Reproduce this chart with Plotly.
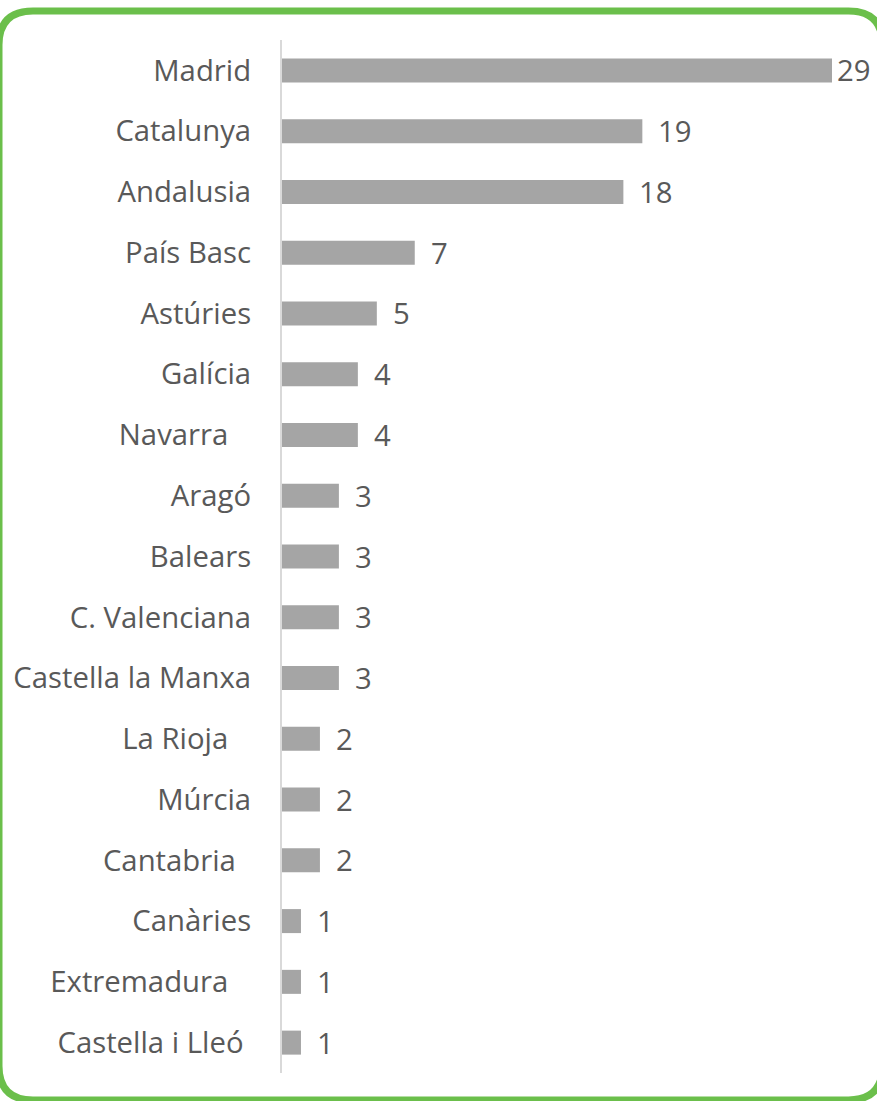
import plotly.graph_objects as go

NBSP = "\u00a0"
categories = ["Madrid", "Catalunya", "Andalusia", "País Basc", "Astúries", "Galícia",
              "Navarra" + NBSP * 3, "Aragó", "Balears", "C. Valenciana", "Castella la Manxa",
              "La Rioja" + NBSP * 3, "Múrcia", "Cantabria" + NBSP * 2, "Canàries",
              "Extremadura" + NBSP * 3, "Castella i Lleó" + NBSP]
values = [29, 19, 18, 7, 5, 4, 4, 3, 3, 3, 3, 2, 2, 2, 1, 1, 1]

W, H = 877, 1101
L, R, T, B = 282, 0, 40, 28
pw, ph = W - L - R, H - T - B
xmax = pw / (550 / 29)

BAR = "#A5A5A5"
TXT = "#595959"
GREEN = "#6BBF4B"
FONT = "Open Sans"
FS = 29.3

fig = go.Figure()
fig.add_trace(go.Bar(
    x=values, y=categories, orientation="h",
    marker=dict(color=BAR, line=dict(width=0)),
    hoverinfo="skip",
))

vmax = max(values)
for c, v in zip(categories, values):
    fig.add_annotation(
        x=v, y=c, xref="x", yref="y", text=str(v), showarrow=False,
        xanchor="left", yanchor="middle", xshift=(3 if v == vmax else 14),
        font=dict(family=FONT, size=FS, color=TXT),
    )

# rounded green frame (pixel geometry converted to paper coordinates)
def px(x):
    return (x - L) / pw

def py(y):
    return 1 - (y - T) / ph

x0, x1, y0, y1, r = -1, 882.5, 11, 1100, 34
path = (
    f"M {px(x0 + r)},{py(y0)} L {px(x1 - r)},{py(y0)} "
    f"Q {px(x1)},{py(y0)} {px(x1)},{py(y0 + r)} "
    f"L {px(x1)},{py(y1 - r)} Q {px(x1)},{py(y1)} {px(x1 - r)},{py(y1)} "
    f"L {px(x0 + r)},{py(y1)} Q {px(x0)},{py(y1)} {px(x0)},{py(y1 - r)} "
    f"L {px(x0)},{py(y0 + r)} Q {px(x0)},{py(y0)} {px(x0 + r)},{py(y0)} Z"
)
fig.add_shape(type="path", path=path, xref="paper", yref="paper",
              line=dict(color=GREEN, width=7), fillcolor="rgba(0,0,0,0)", layer="above")

fig.update_layout(
    width=W, height=H,
    margin=dict(l=L, r=R, t=T, b=B, pad=0),
    paper_bgcolor="white", plot_bgcolor="white",
    showlegend=False, bargap=0.605,
    font=dict(family=FONT, size=FS, color=TXT),
    xaxis=dict(range=[0, xmax], visible=False, showgrid=False, zeroline=False),
    yaxis=dict(autorange="reversed", showline=True, linecolor="#D9D9D9", linewidth=2,
               ticks="", showgrid=False, zeroline=False, ticklabelstandoff=23,
               tickfont=dict(family=FONT, size=FS, color=TXT)),
)

fig.write_html("out.html", config={"displayModeBar": False},
               post_script="document.body.style.margin='0';")
